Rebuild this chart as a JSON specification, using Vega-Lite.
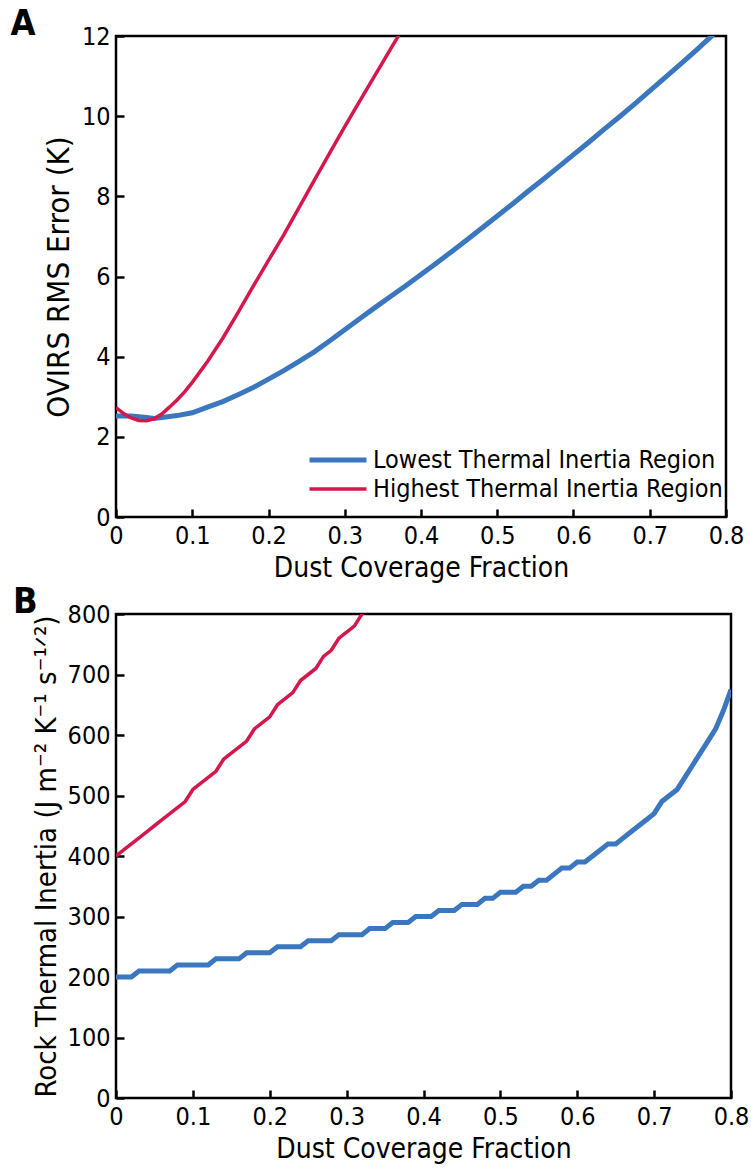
{
  "$schema": "https://vega.github.io/schema/vega-lite/v6.json",
  "padding": {"left": 9, "top": 4, "right": 5, "bottom": 5},
  "background": "white",
  "bounds": "flush",
  "spacing": 97,
  "config": {
    "font": "Liberation Sans Narrow, DejaVu Sans Condensed, sans-serif",
    "view": {"stroke": "black", "strokeWidth": 2.5},
    "axis": {"domain": false, "grid": false, "ticks": true, "tickColor": "black", "tickWidth": 2.5, "tickSize": -8, "labelFontSize": 25, "labelColor": "black", "titleFontSize": 28, "titleFontWeight": "normal", "titleColor": "black", "labelFlush": false, "labelOverlap": false, "labelPadding": 14, "titlePadding": 6},
    "title": {"fontSize": 36, "fontWeight": "bold", "anchor": "start", "color": "black", "frame": "bounds"}
  },
  "datasets": {
    "a": [
      {"x": 0, "v": 2.52, "region": "Lowest Thermal Inertia Region"},
      {"x": 0.02, "v": 2.52, "region": "Lowest Thermal Inertia Region"},
      {"x": 0.04, "v": 2.48, "region": "Lowest Thermal Inertia Region"},
      {"x": 0.05, "v": 2.46, "region": "Lowest Thermal Inertia Region"},
      {"x": 0.06, "v": 2.48, "region": "Lowest Thermal Inertia Region"},
      {"x": 0.08, "v": 2.53, "region": "Lowest Thermal Inertia Region"},
      {"x": 0.10, "v": 2.60, "region": "Lowest Thermal Inertia Region"},
      {"x": 0.12, "v": 2.74, "region": "Lowest Thermal Inertia Region"},
      {"x": 0.14, "v": 2.88, "region": "Lowest Thermal Inertia Region"},
      {"x": 0.16, "v": 3.05, "region": "Lowest Thermal Inertia Region"},
      {"x": 0.18, "v": 3.23, "region": "Lowest Thermal Inertia Region"},
      {"x": 0.20, "v": 3.44, "region": "Lowest Thermal Inertia Region"},
      {"x": 0.22, "v": 3.65, "region": "Lowest Thermal Inertia Region"},
      {"x": 0.24, "v": 3.88, "region": "Lowest Thermal Inertia Region"},
      {"x": 0.26, "v": 4.12, "region": "Lowest Thermal Inertia Region"},
      {"x": 0.28, "v": 4.39, "region": "Lowest Thermal Inertia Region"},
      {"x": 0.30, "v": 4.67, "region": "Lowest Thermal Inertia Region"},
      {"x": 0.32, "v": 4.95, "region": "Lowest Thermal Inertia Region"},
      {"x": 0.34, "v": 5.23, "region": "Lowest Thermal Inertia Region"},
      {"x": 0.36, "v": 5.50, "region": "Lowest Thermal Inertia Region"},
      {"x": 0.38, "v": 5.77, "region": "Lowest Thermal Inertia Region"},
      {"x": 0.40, "v": 6.05, "region": "Lowest Thermal Inertia Region"},
      {"x": 0.42, "v": 6.33, "region": "Lowest Thermal Inertia Region"},
      {"x": 0.44, "v": 6.62, "region": "Lowest Thermal Inertia Region"},
      {"x": 0.46, "v": 6.91, "region": "Lowest Thermal Inertia Region"},
      {"x": 0.48, "v": 7.21, "region": "Lowest Thermal Inertia Region"},
      {"x": 0.50, "v": 7.51, "region": "Lowest Thermal Inertia Region"},
      {"x": 0.52, "v": 7.81, "region": "Lowest Thermal Inertia Region"},
      {"x": 0.54, "v": 8.12, "region": "Lowest Thermal Inertia Region"},
      {"x": 0.56, "v": 8.42, "region": "Lowest Thermal Inertia Region"},
      {"x": 0.58, "v": 8.73, "region": "Lowest Thermal Inertia Region"},
      {"x": 0.60, "v": 9.04, "region": "Lowest Thermal Inertia Region"},
      {"x": 0.62, "v": 9.35, "region": "Lowest Thermal Inertia Region"},
      {"x": 0.64, "v": 9.67, "region": "Lowest Thermal Inertia Region"},
      {"x": 0.66, "v": 9.98, "region": "Lowest Thermal Inertia Region"},
      {"x": 0.68, "v": 10.30, "region": "Lowest Thermal Inertia Region"},
      {"x": 0.70, "v": 10.63, "region": "Lowest Thermal Inertia Region"},
      {"x": 0.72, "v": 10.96, "region": "Lowest Thermal Inertia Region"},
      {"x": 0.74, "v": 11.29, "region": "Lowest Thermal Inertia Region"},
      {"x": 0.76, "v": 11.63, "region": "Lowest Thermal Inertia Region"},
      {"x": 0.78, "v": 11.98, "region": "Lowest Thermal Inertia Region"},
      {"x": 0.80, "v": 12.33, "region": "Lowest Thermal Inertia Region"},
      {"x": 0, "v": 2.73, "region": "Highest Thermal Inertia Region"},
      {"x": 0.01, "v": 2.58, "region": "Highest Thermal Inertia Region"},
      {"x": 0.02, "v": 2.47, "region": "Highest Thermal Inertia Region"},
      {"x": 0.03, "v": 2.41, "region": "Highest Thermal Inertia Region"},
      {"x": 0.04, "v": 2.40, "region": "Highest Thermal Inertia Region"},
      {"x": 0.05, "v": 2.45, "region": "Highest Thermal Inertia Region"},
      {"x": 0.06, "v": 2.57, "region": "Highest Thermal Inertia Region"},
      {"x": 0.07, "v": 2.74, "region": "Highest Thermal Inertia Region"},
      {"x": 0.08, "v": 2.92, "region": "Highest Thermal Inertia Region"},
      {"x": 0.09, "v": 3.12, "region": "Highest Thermal Inertia Region"},
      {"x": 0.10, "v": 3.36, "region": "Highest Thermal Inertia Region"},
      {"x": 0.12, "v": 3.88, "region": "Highest Thermal Inertia Region"},
      {"x": 0.14, "v": 4.46, "region": "Highest Thermal Inertia Region"},
      {"x": 0.16, "v": 5.10, "region": "Highest Thermal Inertia Region"},
      {"x": 0.18, "v": 5.76, "region": "Highest Thermal Inertia Region"},
      {"x": 0.20, "v": 6.40, "region": "Highest Thermal Inertia Region"},
      {"x": 0.22, "v": 7.04, "region": "Highest Thermal Inertia Region"},
      {"x": 0.24, "v": 7.72, "region": "Highest Thermal Inertia Region"},
      {"x": 0.26, "v": 8.40, "region": "Highest Thermal Inertia Region"},
      {"x": 0.28, "v": 9.07, "region": "Highest Thermal Inertia Region"},
      {"x": 0.30, "v": 9.74, "region": "Highest Thermal Inertia Region"},
      {"x": 0.32, "v": 10.39, "region": "Highest Thermal Inertia Region"},
      {"x": 0.34, "v": 11.03, "region": "Highest Thermal Inertia Region"},
      {"x": 0.36, "v": 11.67, "region": "Highest Thermal Inertia Region"},
      {"x": 0.38, "v": 12.31, "region": "Highest Thermal Inertia Region"}
    ],
    "b": [
      {"x": 0, "v": 200, "region": "Lowest"}, {"x": 0.01, "v": 200, "region": "Lowest"}, {"x": 0.02, "v": 200, "region": "Lowest"},
      {"x": 0.03, "v": 210, "region": "Lowest"}, {"x": 0.04, "v": 210, "region": "Lowest"}, {"x": 0.05, "v": 210, "region": "Lowest"},
      {"x": 0.06, "v": 210, "region": "Lowest"}, {"x": 0.07, "v": 210, "region": "Lowest"}, {"x": 0.08, "v": 220, "region": "Lowest"},
      {"x": 0.09, "v": 220, "region": "Lowest"}, {"x": 0.10, "v": 220, "region": "Lowest"}, {"x": 0.11, "v": 220, "region": "Lowest"},
      {"x": 0.12, "v": 220, "region": "Lowest"}, {"x": 0.13, "v": 230, "region": "Lowest"}, {"x": 0.14, "v": 230, "region": "Lowest"},
      {"x": 0.15, "v": 230, "region": "Lowest"}, {"x": 0.16, "v": 230, "region": "Lowest"}, {"x": 0.17, "v": 240, "region": "Lowest"},
      {"x": 0.18, "v": 240, "region": "Lowest"}, {"x": 0.19, "v": 240, "region": "Lowest"}, {"x": 0.20, "v": 240, "region": "Lowest"},
      {"x": 0.21, "v": 250, "region": "Lowest"}, {"x": 0.22, "v": 250, "region": "Lowest"}, {"x": 0.23, "v": 250, "region": "Lowest"},
      {"x": 0.24, "v": 250, "region": "Lowest"}, {"x": 0.25, "v": 260, "region": "Lowest"}, {"x": 0.26, "v": 260, "region": "Lowest"},
      {"x": 0.27, "v": 260, "region": "Lowest"}, {"x": 0.28, "v": 260, "region": "Lowest"}, {"x": 0.29, "v": 270, "region": "Lowest"},
      {"x": 0.30, "v": 270, "region": "Lowest"}, {"x": 0.31, "v": 270, "region": "Lowest"}, {"x": 0.32, "v": 270, "region": "Lowest"},
      {"x": 0.33, "v": 280, "region": "Lowest"}, {"x": 0.34, "v": 280, "region": "Lowest"}, {"x": 0.35, "v": 280, "region": "Lowest"},
      {"x": 0.36, "v": 290, "region": "Lowest"}, {"x": 0.37, "v": 290, "region": "Lowest"}, {"x": 0.38, "v": 290, "region": "Lowest"},
      {"x": 0.39, "v": 300, "region": "Lowest"}, {"x": 0.40, "v": 300, "region": "Lowest"}, {"x": 0.41, "v": 300, "region": "Lowest"},
      {"x": 0.42, "v": 310, "region": "Lowest"}, {"x": 0.43, "v": 310, "region": "Lowest"}, {"x": 0.44, "v": 310, "region": "Lowest"},
      {"x": 0.45, "v": 320, "region": "Lowest"}, {"x": 0.46, "v": 320, "region": "Lowest"}, {"x": 0.47, "v": 320, "region": "Lowest"},
      {"x": 0.48, "v": 330, "region": "Lowest"}, {"x": 0.49, "v": 330, "region": "Lowest"}, {"x": 0.50, "v": 340, "region": "Lowest"},
      {"x": 0.51, "v": 340, "region": "Lowest"}, {"x": 0.52, "v": 340, "region": "Lowest"}, {"x": 0.53, "v": 350, "region": "Lowest"},
      {"x": 0.54, "v": 350, "region": "Lowest"}, {"x": 0.55, "v": 360, "region": "Lowest"}, {"x": 0.56, "v": 360, "region": "Lowest"},
      {"x": 0.57, "v": 370, "region": "Lowest"}, {"x": 0.58, "v": 380, "region": "Lowest"}, {"x": 0.59, "v": 380, "region": "Lowest"},
      {"x": 0.60, "v": 390, "region": "Lowest"}, {"x": 0.61, "v": 390, "region": "Lowest"}, {"x": 0.62, "v": 400, "region": "Lowest"},
      {"x": 0.63, "v": 410, "region": "Lowest"}, {"x": 0.64, "v": 420, "region": "Lowest"}, {"x": 0.65, "v": 420, "region": "Lowest"},
      {"x": 0.66, "v": 430, "region": "Lowest"}, {"x": 0.67, "v": 440, "region": "Lowest"}, {"x": 0.68, "v": 450, "region": "Lowest"},
      {"x": 0.69, "v": 460, "region": "Lowest"}, {"x": 0.70, "v": 470, "region": "Lowest"}, {"x": 0.71, "v": 490, "region": "Lowest"},
      {"x": 0.72, "v": 500, "region": "Lowest"}, {"x": 0.73, "v": 510, "region": "Lowest"}, {"x": 0.74, "v": 530, "region": "Lowest"},
      {"x": 0.75, "v": 550, "region": "Lowest"}, {"x": 0.76, "v": 570, "region": "Lowest"}, {"x": 0.77, "v": 590, "region": "Lowest"},
      {"x": 0.78, "v": 610, "region": "Lowest"}, {"x": 0.79, "v": 640, "region": "Lowest"}, {"x": 0.80, "v": 675, "region": "Lowest"},
      {"x": 0, "v": 400, "region": "Highest"}, {"x": 0.01, "v": 410, "region": "Highest"}, {"x": 0.02, "v": 420, "region": "Highest"},
      {"x": 0.03, "v": 430, "region": "Highest"}, {"x": 0.04, "v": 440, "region": "Highest"}, {"x": 0.05, "v": 450, "region": "Highest"},
      {"x": 0.06, "v": 460, "region": "Highest"}, {"x": 0.07, "v": 470, "region": "Highest"}, {"x": 0.08, "v": 480, "region": "Highest"},
      {"x": 0.09, "v": 490, "region": "Highest"}, {"x": 0.10, "v": 510, "region": "Highest"}, {"x": 0.11, "v": 520, "region": "Highest"},
      {"x": 0.12, "v": 530, "region": "Highest"}, {"x": 0.13, "v": 540, "region": "Highest"}, {"x": 0.14, "v": 560, "region": "Highest"},
      {"x": 0.15, "v": 570, "region": "Highest"}, {"x": 0.16, "v": 580, "region": "Highest"}, {"x": 0.17, "v": 590, "region": "Highest"},
      {"x": 0.18, "v": 610, "region": "Highest"}, {"x": 0.19, "v": 620, "region": "Highest"}, {"x": 0.20, "v": 630, "region": "Highest"},
      {"x": 0.21, "v": 650, "region": "Highest"}, {"x": 0.22, "v": 660, "region": "Highest"}, {"x": 0.23, "v": 670, "region": "Highest"},
      {"x": 0.24, "v": 690, "region": "Highest"}, {"x": 0.25, "v": 700, "region": "Highest"}, {"x": 0.26, "v": 710, "region": "Highest"},
      {"x": 0.27, "v": 730, "region": "Highest"}, {"x": 0.28, "v": 740, "region": "Highest"}, {"x": 0.29, "v": 760, "region": "Highest"},
      {"x": 0.30, "v": 770, "region": "Highest"}, {"x": 0.31, "v": 780, "region": "Highest"}, {"x": 0.32, "v": 800, "region": "Highest"},
      {"x": 0.33, "v": 820, "region": "Highest"}
    ]
  },
  "vconcat": [
    {
      "width": 610,
      "height": 481,
      "title": {"text": "A", "dx": -33, "offset": -19},
      "data": {"name": "a"},
      "mark": {"type": "line", "clip": true},
      "encoding": {
        "x": {"field": "x", "type": "quantitative", "scale": {"domain": [0, 0.8], "nice": false, "zero": false},
              "axis": {"values": [0, 0.1, 0.2, 0.3, 0.4, 0.5, 0.6, 0.7, 0.8], "title": "Dust Coverage Fraction", "labelExpr": "datum.value == 0 ? '0' : format(datum.value, '.1f')"}},
        "y": {"field": "v", "type": "quantitative", "scale": {"domain": [0, 12], "nice": false},
              "axis": {"values": [0, 2, 4, 6, 8, 10, 12], "title": "OVIRS RMS Error (K)", "titleFontSize": 31}},
        "color": {"field": "region", "type": "nominal",
                  "scale": {"domain": ["Lowest Thermal Inertia Region", "Highest Thermal Inertia Region"], "range": ["#3a77bf", "#d6174c"]},
                  "legend": {"title": null, "orient": "none", "legendX": 205, "legendY": 407, "symbolType": "M-2,0H2", "symbolSize": 812, "labelFontSize": 25, "labelColor": "black", "labelOffset": 18, "rowPadding": 0, "labelLimit": 0}},
        "strokeWidth": {"field": "region", "type": "nominal",
                  "scale": {"domain": ["Lowest Thermal Inertia Region", "Highest Thermal Inertia Region"], "range": [5, 3.5]},
                  "legend": {"title": null, "orient": "none", "legendX": 205, "legendY": 407, "symbolType": "M-2,0H2", "symbolSize": 812, "labelFontSize": 25, "labelColor": "black", "labelOffset": 18, "rowPadding": 0, "labelLimit": 0}}
      }
    },
    {
      "width": 615,
      "height": 484,
      "title": {"text": "B", "dx": -19, "offset": -19},
      "data": {"name": "b"},
      "mark": {"type": "line", "clip": true},
      "encoding": {
        "x": {"field": "x", "type": "quantitative", "scale": {"domain": [0, 0.8], "nice": false, "zero": false},
              "axis": {"values": [0, 0.1, 0.2, 0.3, 0.4, 0.5, 0.6, 0.7, 0.8], "title": "Dust Coverage Fraction", "labelExpr": "datum.value == 0 ? '0' : format(datum.value, '.1f')"}},
        "y": {"field": "v", "type": "quantitative", "scale": {"domain": [0, 800], "nice": false},
              "axis": {"values": [0, 100, 200, 300, 400, 500, 600, 700, 800], "title": "Rock Thermal Inertia (J m⁻² K⁻¹ s⁻¹ᐟ²)", "titleFontSize": 29}},
        "color": {"field": "region", "type": "nominal",
                  "scale": {"domain": ["Lowest", "Highest"], "range": ["#3a77bf", "#d6174c"]}, "legend": null},
        "strokeWidth": {"field": "region", "type": "nominal",
                  "scale": {"domain": ["Lowest", "Highest"], "range": [5, 3.5]}, "legend": null}
      }
    }
  ],
  "resolve": {
    "scale": {"color": "independent", "strokeWidth": "independent", "x": "independent", "y": "independent"},
    "legend": {"color": "independent", "strokeWidth": "independent"}
  }
}
